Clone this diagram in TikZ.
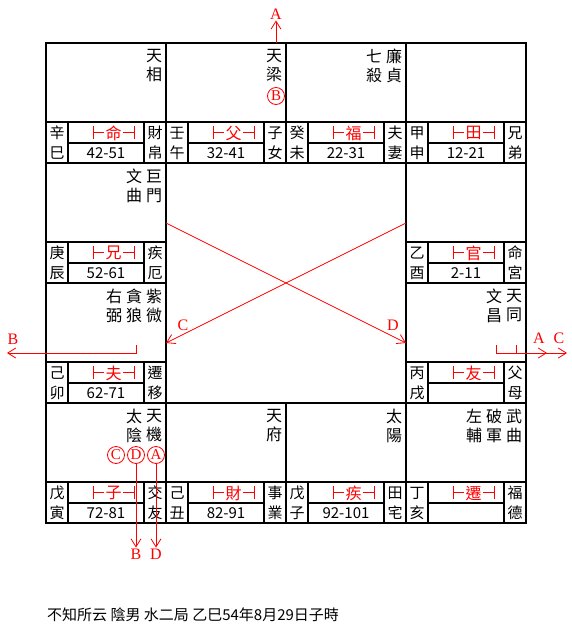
\documentclass[tikz,border=0pt]{standalone}
\usepackage{fontspec}
\setmainfont{Noto Sans CJK TC}
\newfontfamily\abcfont{Liberation Serif}
\usetikzlibrary{arrows.meta}

\begin{document}
\begin{tikzpicture}[
  x=1pt, y=-1pt,
  frame/.style={line width=2pt, black},
  star/.style={inner sep=0pt, align=center, font=\fontsize{16}{19}\selectfont},
  branch/.style={inner sep=0pt, font=\fontsize{15}{15}\selectfont},
  agespan/.style={inner sep=0pt, font=\fontsize{15}{15}\selectfont},
  gong/.style={inner sep=0pt, text=red, font=\fontsize{16}{16}\selectfont},
  gongbar/.style={red, line width=0.8pt},
  huaring/.style={circle, draw=red, line width=0.8pt, text=red, inner sep=0pt,
                  minimum size=17pt, font=\abcfont\fontsize{15}{15}\selectfont},
  flyarrow/.style={red, line width=0.8pt, -{Straight Barb[length=8pt,width=10pt]}},
  flytag/.style={text=red, inner sep=1pt, font=\abcfont\fontsize{16}{16}\selectfont},
]
  \fill[white] (0,0) rectangle (572,629);
  \useasboundingbox (0,0) rectangle (572,629);

  % palace grid
  \draw[frame] (46,43) rectangle (526,523);
  \draw[frame] (166,43) -- (166,523) (406,43) -- (406,523);
  \draw[frame] (46,163) -- (526,163) (46,403) -- (526,403);
  \draw[frame] (286,43) -- (286,163) (286,403) -- (286,523);
  \draw[frame] (46,283) -- (166,283) (406,283) -- (526,283);

  % info strip of each palace
  \foreach \c/\r/\sa/\sb/\p/\age/\qa/\qb [count=\i] in {
      0/0/辛/巳/命/42-51/財/帛, 1/0/壬/午/父/32-41/子/女,
      2/0/癸/未/福/22-31/夫/妻, 3/0/甲/申/田/12-21/兄/弟,
      0/1/庚/辰/兄/52-61/疾/厄, 3/1/乙/酉/官/2-11/命/宮,
      0/2/己/卯/夫/62-71/遷/移, 3/2/丙/戌/友//父/母,
      0/3/戊/寅/子/72-81/交/友, 1/3/己/丑/財/82-91/事/業,
      2/3/戊/子/疾/92-101/田/宅, 3/3/丁/亥/遷//福/德} {
    \begin{scope}[shift={(46+120*\c,43+120*\r)}]
      \draw[frame] (0,79) -- (120,79) (22,100) -- (98,100);
      \draw[frame] (22,79) -- (22,120) (98,79) -- (98,120);
      \node[branch] (stem\i) at (11,90) {\sa};
      \node[branch] (zhi\i) at (11,110) {\sb};
      \node[gong] (gong\i) at (67.5,90) {\p};
      \draw[gongbar] (47,83) -- (47,96) (47,89.5) -- (58,89.5)
                     (88,83) -- (88,96) (88,89.5) -- (77,89.5);
      \node[agespan] (age\i) at (60,110.5) {\age};
      \node[branch] (qa\i) at (109,90) {\qa};
      \node[branch] (qb\i) at (109,110) {\qb};
    \end{scope}
  }

  % stars
  \node[star] (tianxiang) at (154,66) {天\\相};
  \node[star] (tianliang) at (274,66) {天\\梁};
  \node[star] (lianzhen) at (394,66) {廉\\貞};
  \node[star] (qisha) at (374,66) {七\\殺};
  \node[star] (jumen) at (154,186) {巨\\門};
  \node[star] (wenqu) at (134,186) {文\\曲};
  \node[star] (ziwei) at (154,306) {紫\\微};
  \node[star] (tanlang) at (134,306) {貪\\狼};
  \node[star] (youbi) at (114,306) {右\\弼};
  \node[star] (tiantong) at (514,306) {天\\同};
  \node[star] (wenchang) at (494,306) {文\\昌};
  \node[star] (tianji) at (154,426) {天\\機};
  \node[star] (taiyin) at (134,426) {太\\陰};
  \node[star] (tianfu) at (274,426) {天\\府};
  \node[star] (taiyang) at (394,426) {太\\陽};
  \node[star] (wuqu) at (514,426) {武\\曲};
  \node[star] (pojun) at (494,426) {破\\軍};
  \node[star] (zuofu) at (474,426) {左\\輔};

  % transformation rings
  \node[huaring] (huaB) at (276,96) {B};
  \node[huaring] (huaA) at (156,455) {A};
  \node[huaring] (huaD) at (136,455) {D};
  \node[huaring] (huaC) at (116,455) {C};

  % flying arrows
  \coordinate (outA) at (276,43);
  \node[flytag] (tagAtop) at (276,14) {A};
  \draw[flyarrow] (outA) -- (tagAtop);

  \node[flytag] (tagBbot) at (136,554) {B};
  \node[flytag] (tagDbot) at (156,554) {D};
  \draw[flyarrow] (huaD) -- (tagBbot);
  \draw[flyarrow] (huaA) -- (tagDbot);

  \coordinate (ziweiB) at (136,345);
  \coordinate (outB) at (7,353);
  \node[flytag] (tagBleft) at (13,339) {B};
  \draw[flyarrow] (ziweiB) |- (outB);

  \coordinate (tongA) at (496,345);
  \coordinate (outA2) at (547,353);
  \coordinate (tongC) at (516,345);
  \coordinate (outC) at (567,353);
  \node[flytag] (tagAright) at (539,338) {A};
  \node[flytag] (tagCright) at (559,338) {C};
  \draw[flyarrow] (tongA) |- (outA2);
  \draw[flyarrow] (tongC) |- (outC);

  \coordinate (xwest) at (166,223);
  \coordinate (xsoutheast) at (406,343);
  \coordinate (xeast) at (406,223);
  \coordinate (xsouthwest) at (166,343);
  \draw[flyarrow] (xwest) -- (xsoutheast);
  \draw[flyarrow] (xeast) -- (xsouthwest);
  \node[flytag] (tagCmid) at (183,325) {C};
  \node[flytag] (tagDmid) at (393,325) {D};

  \node[anchor=west, inner sep=0pt, font=\fontsize{15}{15}\selectfont] (caption)
    at (47,615) {不知所云 陰男 水二局 乙巳54年8月29日子時};
\end{tikzpicture}
\end{document}
